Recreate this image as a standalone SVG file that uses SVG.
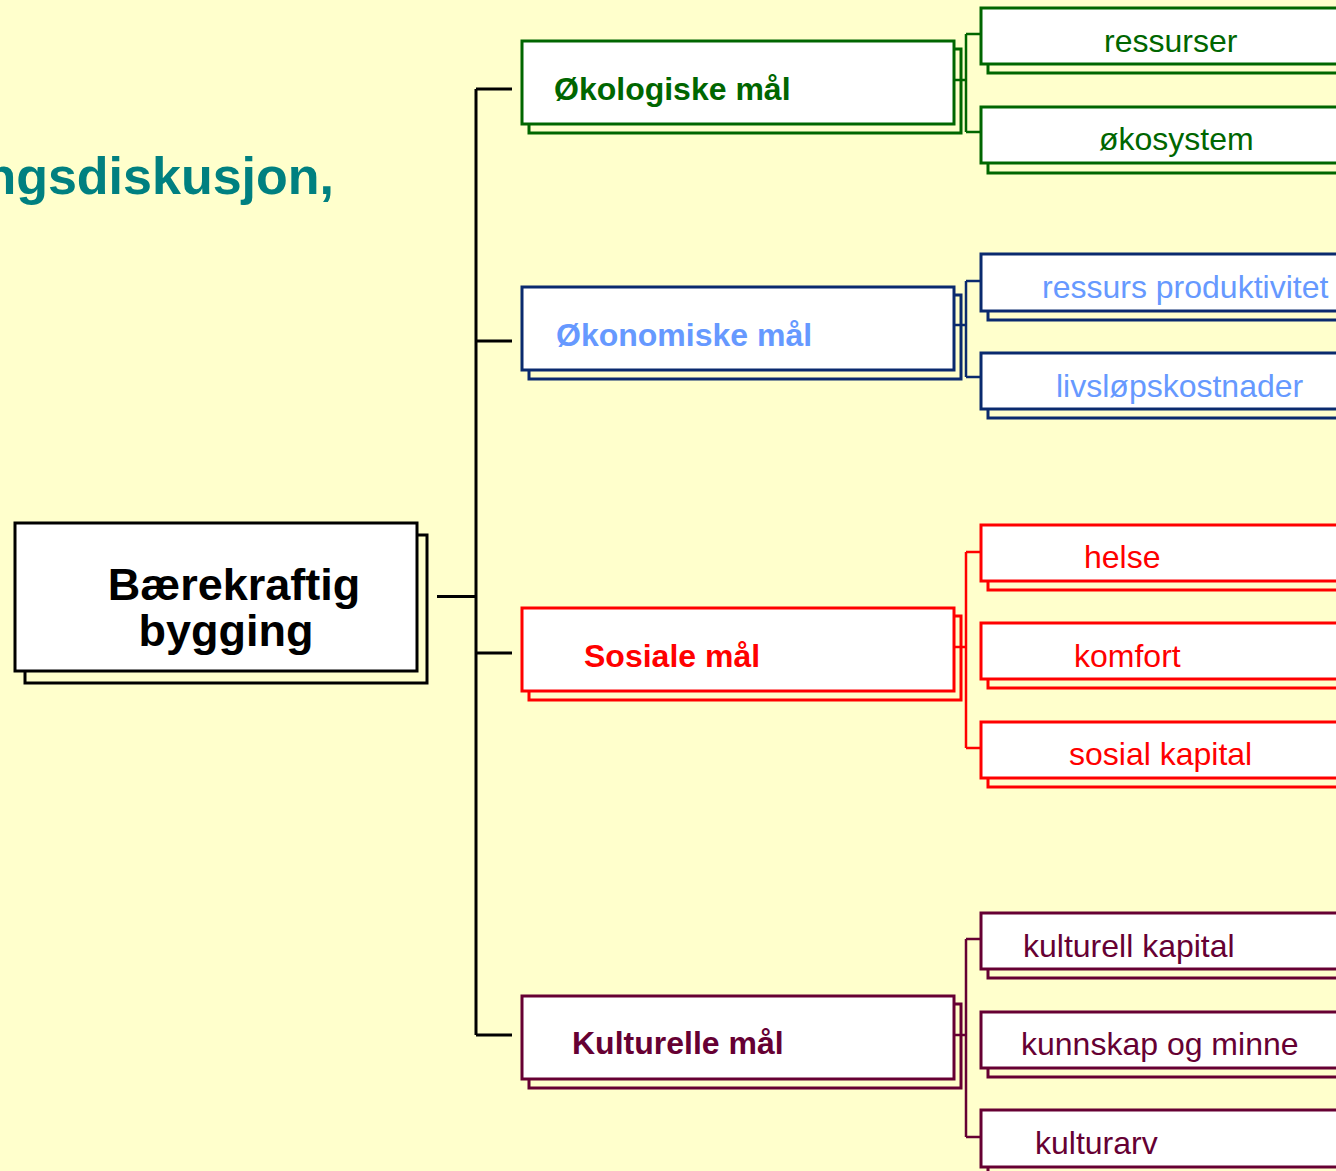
<svg xmlns="http://www.w3.org/2000/svg" width="1336" height="1171" viewBox="0 0 1336 1171">
<style>
.bg{fill:#FFFFCC}
.sh{fill:none}
.fr{fill:#FFFFFF}
.conn{fill:none;stroke-linejoin:miter;stroke-linecap:butt}
.t{font-family:"Liberation Sans",Arial,sans-serif}
.b{font-weight:bold}
.g{stroke:#006600}
.n{stroke:#0A2A6E}
.r{stroke:#FF0000}
.m{stroke:#660033}
.k{stroke:#000000}
.tg{fill:#006600}
.tn{fill:#6699FF}
.tr{fill:#FF0000}
.tm{fill:#660033}
.l2{stroke-width:3}
.l3{stroke-width:3}
.c3{font-size:32px}
.c2{font-size:32px;font-weight:bold}
</style>
<rect class="bg" x="0" y="0" width="1336" height="1171"/>
<text class="t b" x="334" y="194" font-size="52" fill="#008080" text-anchor="end">ngsdiskusjon,</text>

<g id="connectors">
  <path class="conn k" stroke-width="3" d="M437,596.5 H476 M476,89 V1035 M476,89 H512 M476,341 H512 M476,653 H512 M476,1035 H512"/>
  <path class="conn g" stroke-width="2.5" d="M954,80 H966 M966,34 V132 M966,34 H981 M966,132 H981"/>
  <path class="conn n" stroke-width="2.5" d="M954,325 H966 M966,281 V377 M966,281 H981 M966,377 H981"/>
  <path class="conn r" stroke-width="2.5" d="M954,647 H966 M966,552 V748 M966,552 H981 M966,748 H981"/>
  <path class="conn m" stroke-width="2.5" d="M954,1035 H966 M966,939 V1137 M966,939 H981 M966,1137 H981"/>
</g>

<g id="root">
  <rect class="sh k" stroke-width="3" x="25" y="535" width="402" height="148"/>
  <rect class="fr k" stroke-width="3" x="15" y="523" width="402" height="148"/>
  <text class="t b" x="234" y="600" font-size="45" fill="#000" text-anchor="middle">Bærekraftig</text>
  <text class="t b" x="226" y="646" font-size="45" fill="#000" text-anchor="middle">bygging</text>
</g>

<g id="okologiske">
  <rect class="sh g l2" x="529" y="49" width="432" height="84"/>
  <rect class="fr g l2" x="522" y="41" width="432" height="83"/>
  <text class="t c2 tg" x="554" y="100">Økologiske mål</text>
</g>
<g id="okonomiske">
  <rect class="sh n l2" x="529" y="295" width="432" height="84"/>
  <rect class="fr n l2" x="522" y="287" width="432" height="83"/>
  <text class="t c2 tn" x="556" y="346">Økonomiske mål</text>
</g>
<g id="sosiale">
  <rect class="sh r l2" x="529" y="616" width="432" height="84"/>
  <rect class="fr r l2" x="522" y="608" width="432" height="83"/>
  <text class="t c2 tr" x="584" y="667">Sosiale mål</text>
</g>
<g id="kulturelle">
  <rect class="sh m l2" x="529" y="1004" width="432" height="84"/>
  <rect class="fr m l2" x="522" y="996" width="432" height="83"/>
  <text class="t c2 tm" x="572" y="1054">Kulturelle mål</text>
</g>

<g id="ressurser">
  <rect class="sh g l3" x="988" y="17" width="380" height="56"/>
  <rect class="fr g l3" x="981" y="8" width="380" height="56"/>
  <text class="t c3 tg" x="1104" y="52">ressurser</text>
</g>
<g id="okosystem">
  <rect class="sh g l3" x="988" y="117" width="380" height="56"/>
  <rect class="fr g l3" x="981" y="107" width="380" height="56"/>
  <text class="t c3 tg" x="1099" y="150">økosystem</text>
</g>
<g id="ressurs-produktivitet">
  <rect class="sh n l3" x="988" y="264" width="380" height="56"/>
  <rect class="fr n l3" x="981" y="254" width="380" height="57"/>
  <text class="t c3 tn" x="1042" y="298">ressurs produktivitet</text>
</g>
<g id="livslopskostnader">
  <rect class="sh n l3" x="988" y="362" width="380" height="56"/>
  <rect class="fr n l3" x="981" y="353" width="380" height="56"/>
  <text class="t c3 tn" x="1056" y="397">livsløpskostnader</text>
</g>
<g id="helse">
  <rect class="sh r l3" x="988" y="534" width="380" height="56"/>
  <rect class="fr r l3" x="981" y="525" width="380" height="56"/>
  <text class="t c3 tr" x="1084" y="568">helse</text>
</g>
<g id="komfort">
  <rect class="sh r l3" x="988" y="632" width="380" height="56"/>
  <rect class="fr r l3" x="981" y="623" width="380" height="56"/>
  <text class="t c3 tr" x="1074" y="667">komfort</text>
</g>
<g id="sosial-kapital">
  <rect class="sh r l3" x="988" y="731" width="380" height="56"/>
  <rect class="fr r l3" x="981" y="722" width="380" height="56"/>
  <text class="t c3 tr" x="1069" y="765">sosial kapital</text>
</g>
<g id="kulturell-kapital">
  <rect class="sh m l3" x="988" y="922" width="380" height="56"/>
  <rect class="fr m l3" x="981" y="913" width="380" height="56"/>
  <text class="t c3 tm" x="1023" y="957">kulturell kapital</text>
</g>
<g id="kunnskap-og-minne">
  <rect class="sh m l3" x="988" y="1021" width="380" height="56"/>
  <rect class="fr m l3" x="981" y="1012" width="380" height="56"/>
  <text class="t c3 tm" x="1021" y="1055">kunnskap og minne</text>
</g>
<g id="kulturarv">
  <rect class="sh m l3" x="988" y="1120" width="380" height="56"/>
  <rect class="fr m l3" x="981" y="1110" width="380" height="57"/>
  <text class="t c3 tm" x="1035" y="1154">kulturarv</text>
</g>
</svg>
